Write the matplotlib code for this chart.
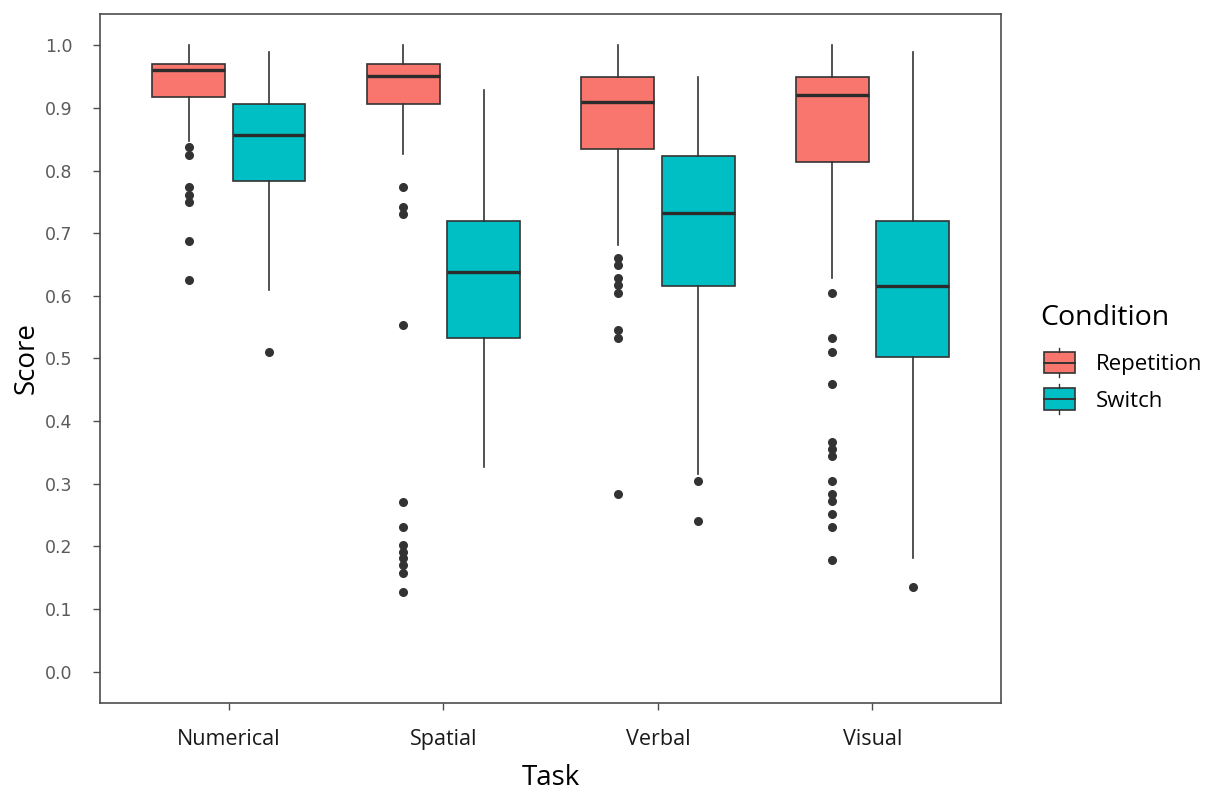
import matplotlib
matplotlib.use("Agg")
import matplotlib.pyplot as plt
from matplotlib.legend_handler import HandlerBase
from matplotlib.patches import Rectangle, Patch
from matplotlib.lines import Line2D

# ---------------------------------------------------------------------------
# Data
# ---------------------------------------------------------------------------
tasks = ["Numerical", "Spatial", "Verbal", "Visual"]
conditions = ["Repetition", "Switch"]

rep_whislo = [0.847, 0.826, 0.681, 0.628]
rep_q1 = [0.918, 0.907, 0.834, 0.814]
rep_med = [0.961, 0.951, 0.909, 0.920]
rep_q3 = [0.970, 0.970, 0.950, 0.950]
rep_whishi = [1.000, 1.000, 1.000, 1.000]
rep_fliers = [
    [0.837, 0.825, 0.773, 0.761, 0.749, 0.688, 0.626],
    [0.773, 0.742, 0.730, 0.554, 0.271, 0.231, 0.202, 0.191, 0.181,
     0.170, 0.158, 0.127],
    [0.660, 0.649, 0.628, 0.617, 0.605, 0.545, 0.532, 0.283],
    [0.605, 0.533, 0.511, 0.459, 0.367, 0.356, 0.345, 0.305, 0.283,
     0.272, 0.251, 0.231, 0.178],
]

sw_whislo = [0.609, 0.327, 0.316, 0.181]
sw_q1 = [0.784, 0.533, 0.615, 0.502]
sw_med = [0.857, 0.638, 0.732, 0.616]
sw_q3 = [0.907, 0.719, 0.823, 0.719]
sw_whishi = [0.990, 0.928, 0.950, 0.990]
sw_fliers = [[0.511], [], [0.305, 0.240], [0.135]]

colors = {"Repetition": "#F8766D", "Switch": "#00BFC4"}
EDGE = "#333333"
OFFSET = 0.1875
WIDTH = 0.34


def make_stats(whislo, q1, med, q3, whishi, fliers):
    return [
        dict(whislo=a, q1=b, med=c, q3=d, whishi=e, fliers=f)
        for a, b, c, d, e, f in zip(whislo, q1, med, q3, whishi, fliers)
    ]


class BoxHandler(HandlerBase):
    """Legend key that looks like a small ggplot boxplot."""

    def create_artists(self, legend, orig_handle, xdescent, ydescent,
                       width, height, fontsize, trans):
        cx = width / 2 - xdescent
        bw = width
        bh = height
        y0 = -ydescent
        rect = Rectangle((cx - bw / 2, y0), bw, bh,
                         facecolor=orig_handle.get_facecolor(),
                         edgecolor=EDGE, lw=1.2, transform=trans)
        mid = Line2D([cx - bw / 2, cx + bw / 2], [y0 + bh / 2] * 2,
                     color=EDGE, lw=1.4, transform=trans)
        top = Line2D([cx, cx], [y0 + bh, y0 + bh + height * 0.2],
                     color=EDGE, lw=1.0, transform=trans)
        bot = Line2D([cx, cx], [y0, y0 - height * 0.2],
                     color=EDGE, lw=1.0, transform=trans)
        return [rect, mid, top, bot]


fig = plt.figure(figsize=(12.08, 7.92), dpi=100)
ax = fig.add_axes([0.0828, 0.1124, 0.746, 0.87])

groups = [
    ("Repetition", make_stats(rep_whislo, rep_q1, rep_med, rep_q3, rep_whishi, rep_fliers), -OFFSET),
    ("Switch", make_stats(sw_whislo, sw_q1, sw_med, sw_q3, sw_whishi, sw_fliers), OFFSET),
]
for name, stats, off in groups:
    ax.bxp(
        stats,
        positions=[i + 1 + off for i in range(len(tasks))],
        widths=WIDTH,
        patch_artist=True,
        showcaps=False,
        boxprops=dict(facecolor=colors[name], edgecolor=EDGE, lw=1.2),
        medianprops=dict(color="#2b2b2b", lw=2.4),
        whiskerprops=dict(color=EDGE, lw=1.2),
        flierprops=dict(marker="o", markerfacecolor=EDGE, markeredgecolor=EDGE,
                        markersize=5.5),
        manage_ticks=False,
    )

ax.set_xlim(0.4, 4.6)
ax.set_ylim(-0.05, 1.05)
ax.set_xticks(range(1, len(tasks) + 1))
ax.set_xticklabels(tasks, fontsize=15.5, family="Open Sans", color="#1a1a1a")
ax.set_yticks([i / 10 for i in range(11)])
ax.set_yticklabels([f"{i / 10:.1f}" for i in range(11)], fontsize=12.5,
                   family="DejaVu Sans", color="#5a5a5a")
ax.tick_params(axis="both", direction="out", length=5, width=1, color="#4D4D4D")
ax.tick_params(axis="x", pad=14)
ax.tick_params(axis="y", pad=15)
for sp in ax.spines.values():
    sp.set_color("#4D4D4D")
    sp.set_linewidth(1.2)

ax.set_xlabel("Task", fontsize=20, family="Open Sans", labelpad=10)
ax.set_ylabel("Score", fontsize=20, family="Open Sans", labelpad=3)

# legend title as separate text so its gap to the keys can be matched
fig.text(1040 / 1208, 1 - 318 / 792, "Condition", fontsize=20.5,
         family="Open Sans", ha="left", va="center")
handles = [Patch(facecolor=colors[c], edgecolor=EDGE) for c in conditions]
leg = fig.legend(
    handles, conditions,
    loc="upper left", bbox_to_anchor=(0.848, 0.581),
    frameon=False, handler_map={Patch: BoxHandler()},
    prop=dict(family="Open Sans", size=16),
    handlelength=1.36, handleheight=1.1, labelspacing=0.6, handletextpad=0.95,
)

fig.savefig("out.png", dpi=100)
